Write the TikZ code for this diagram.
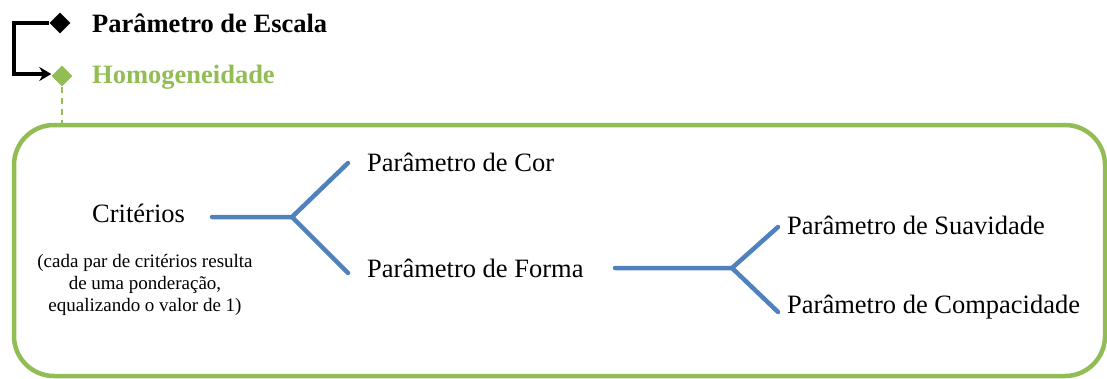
\documentclass[tikz,border=0pt]{standalone}
\usepackage{fontspec}
\setmainfont{Liberation Serif}
\usetikzlibrary{arrows.meta,shapes.geometric}
\definecolor{lgreen}{RGB}{146,189,84}
\definecolor{lblue}{RGB}{79,129,189}
\tikzset{
  lbl/.style={anchor=west,inner sep=0pt,font=\fontsize{26.5}{30}\selectfont},
  hdr/.style={anchor=west,inner sep=0pt,font=\fontsize{26.5}{30}\selectfont\bfseries},
  branch/.style={draw=lblue,line width=4.5pt,line cap=round,line join=round},
  dia/.style={diamond,minimum width=21pt,minimum height=21pt,inner sep=0pt},
}
\begin{document}
\begin{tikzpicture}[x=1pt,y=-1pt]
\useasboundingbox (0,0) rectangle (1107,378);
% header
\node[dia,fill=black] (d1) at (60,23) {};
\node[dia,fill=lgreen] (d2) at (62,76) {};
\node[hdr] (escala) at (92,23) {Parâmetro de Escala};
\node[hdr,text=lgreen] (homo) at (92,77) {Homogeneidade};
\coordinate (bk1) at (14,23);
\coordinate (bk2) at (14,74);
\draw[line width=4.5pt,-{Stealth[length=12pt,width=14pt]}] (d1.west) -- (bk1) -- (bk2) -- (d2.west |- bk2);
% box
\draw[lgreen,line width=4.5pt,rounded corners=40pt] (14,125) rectangle (1105,376);
\coordinate (boxtop) at (62,123);
\draw[lgreen,line width=2.5pt,dash pattern=on 6pt off 5pt] (d2.south) -- (boxtop);
% texts
\node[lbl] (crit) at (92,213) {Critérios};
\node[align=center,inner sep=0pt,font=\fontsize{19}{22}\selectfont] (nota) at (145,285)
  {(cada par de critérios resulta\\de uma ponderação,\\equalizando o valor de 1)};
\node[lbl] (cor) at (367,162) {Parâmetro de Cor};
\node[lbl] (forma) at (367,268) {Parâmetro de Forma};
\node[lbl] (suav) at (787,225) {Parâmetro de Suavidade};
\node[lbl] (comp) at (787,307) {Parâmetro de Compacidade};
% branches 1
\coordinate (a0) at (212,217);
\coordinate (a1) at (292,217);
\coordinate (a2) at (348,163);
\coordinate (a3) at (348,273);
\draw[branch] (a0) -- (a1) -- (a2);
\draw[branch] (a1) -- (a3);
% branches 2
\coordinate (b0) at (615,268);
\coordinate (b1) at (732,268);
\coordinate (b2) at (778,227);
\coordinate (b3) at (778,312);
\draw[branch] (b0) -- (b1) -- (b2);
\draw[branch] (b1) -- (b3);
\end{tikzpicture}
\end{document}
